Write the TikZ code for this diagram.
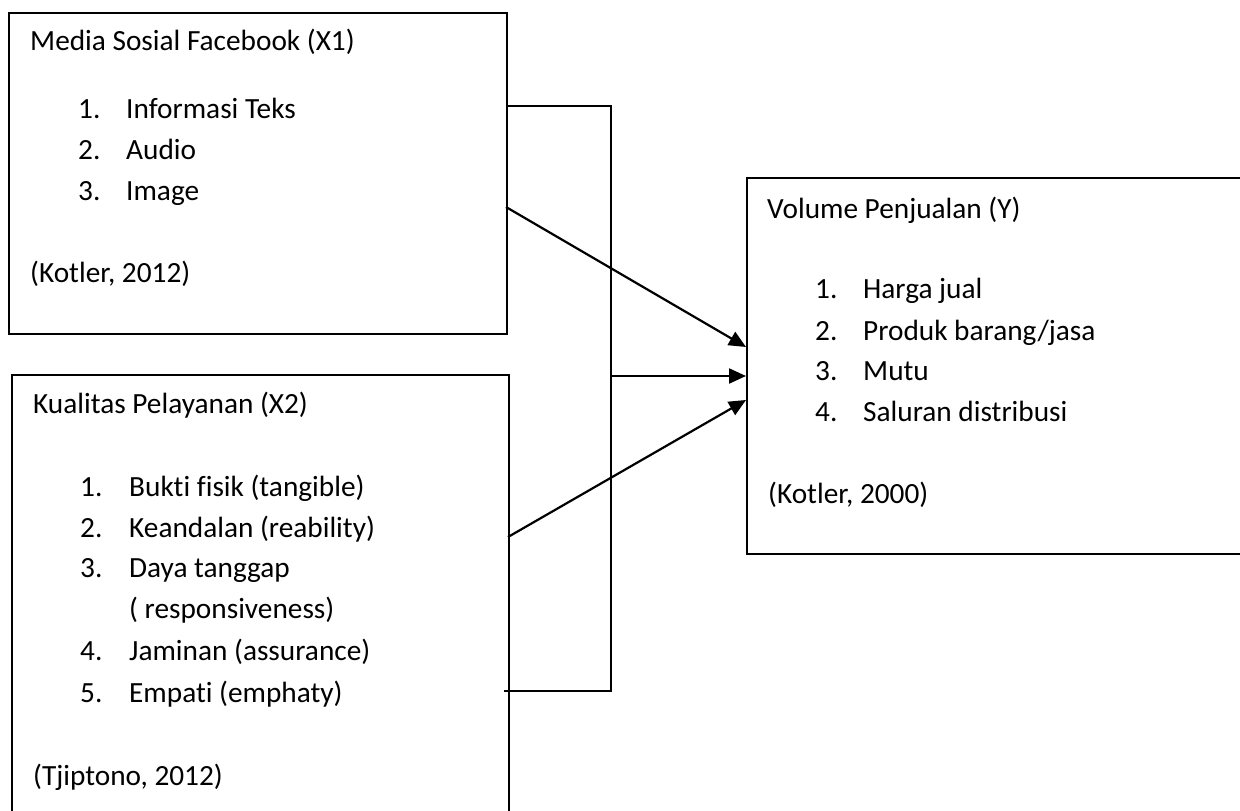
\documentclass[tikz,border=0pt]{standalone}
\usepackage{fontspec}
\setmainfont{Carlito}[Ligatures=CommonOff]
\usetikzlibrary{arrows.meta}
\begin{document}
\begin{tikzpicture}[x=1pt,y=-1pt,
  box/.style={draw=black,line width=2.2pt,rectangle,inner sep=0pt,anchor=north west},
  txt/.style={anchor=base west,inner sep=0pt,font=\fontsize{29.3}{41}\selectfont},
  link/.style={line width=2.2pt},
  arr/.style={line width=2.2pt,-{Triangle[length=17pt,width=15pt]}}]
\useasboundingbox (0,0) rectangle (1240,811);
% boxes
\node[box,minimum width=498pt,minimum height=321pt] (x1) at (8,12) {};
\node[box,minimum width=497pt,minimum height=480pt] (x2) at (11,374) {};
\node[box,minimum width=540pt,minimum height=376pt] (y) at (746,177) {};
% X1 texts
\node[txt] (x1t) at (30,50) {Media Sosial Facebook (X1)};
\node[txt] (x1n1) at (78,118) {1.};
\node[txt] (x1i1) at (126,118) {Informasi Teks};
\node[txt] (x1n2) at (78,159) {2.};
\node[txt] (x1i2) at (126,159) {Audio};
\node[txt] (x1n3) at (78,200) {3.};
\node[txt] (x1i3) at (126,200) {Image};
\node[txt] (x1s) at (30,282) {(Kotler, 2012)};
% X2 texts
\node[txt] (x2t) at (33,413) {Kualitas Pelayanan (X2)};
\node[txt] (x2n1) at (80,496) {1.};
\node[txt] (x2i1) at (129,496) {Bukti fisik (tangible)};
\node[txt] (x2n2) at (80,537) {2.};
\node[txt] (x2i2) at (129,537) {Keandalan (reability)};
\node[txt] (x2n3) at (80,577) {3.};
\node[txt] (x2i3) at (129,577) {Daya tanggap};
\node[txt] (x2i3b) at (129,618) {( responsiveness)};
\node[txt] (x2n4) at (80,660) {4.};
\node[txt] (x2i4) at (129,660) {Jaminan (assurance)};
\node[txt] (x2n5) at (80,702) {5.};
\node[txt] (x2i5) at (129,702) {Empati (emphaty)};
\node[txt] (x2s) at (33,785) {(Tjiptono, 2012)};
% Y texts
\node[txt] (yt) at (767,218) {Volume Penjualan (Y)};
\node[txt] (yn1) at (815,298) {1.};
\node[txt] (yi1) at (863,298) {Harga jual};
\node[txt] (yn2) at (815,340) {2.};
\node[txt] (yi2) at (863,340) {Produk barang/jasa};
\node[txt] (yn3) at (815,380) {3.};
\node[txt] (yi3) at (863,380) {Mutu};
\node[txt] (yn4) at (815,421) {4.};
\node[txt] (yi4) at (863,421) {Saluran distribusi};
\node[txt] (ys) at (768,503) {(Kotler, 2000)};
% connector points
\coordinate (x1top) at (506,106);
\coordinate (x1low) at (506,207);
\coordinate (x2up) at (508,537);
\coordinate (x2bot) at (504,691);
\coordinate (c1) at (611,106);
\coordinate (c2) at (611,691);
\coordinate (jn) at (611,376);
\coordinate (y1) at (746,347);
\coordinate (y2) at (746,376);
\coordinate (y3) at (746,400);
% connectors
\draw[link] (x1top) -- (c1) -- (c2) -- (x2bot);
\draw[arr] (x1low) -- (y1);
\draw[arr] (jn) -- (y2);
\draw[arr] (x2up) -- (y3);
\end{tikzpicture}
\end{document}
